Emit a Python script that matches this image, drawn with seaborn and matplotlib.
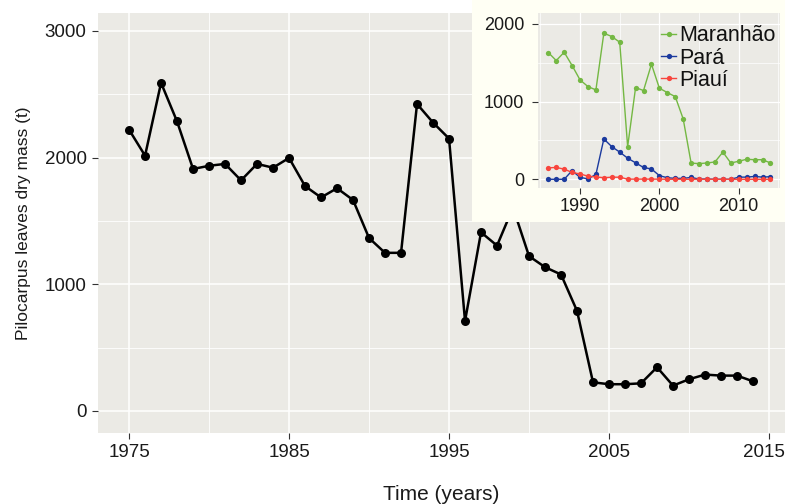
import matplotlib
matplotlib.use("Agg")
import matplotlib.pyplot as plt
from matplotlib.ticker import MultipleLocator
from matplotlib.transforms import ScaledTranslation
import seaborn as sns
import pandas as pd

# ---- data ----
years_total = list(range(1975, 2015))
total_mass = [2220, 2015, 2590, 2285, 1910, 1935, 1950, 1820, 1950, 1920,
              1997, 1775, 1685, 1758, 1665, 1365, 1248, 1248, 2423, 2276,
              2150, 710, 1410, 1305, 1605, 1222, 1135, 1077, 790, 226,
              211, 211, 218, 345, 200, 250, 287, 279, 279, 234]

years_state = list(range(1986, 2015))
maranhao = [1631, 1528, 1635, 1464, 1279, 1193, 1150, 1880, 1837, 1764,
            420, 1180, 1142, 1481, 1172, 1116, 1064, 777, 208, 202,
            210, 223, 350, 210, 232, 258, 252, 252, 210]
para = [0, 0, 0, 112, 24, 6, 62, 519, 420, 350,
        272, 212, 152, 133, 47, 20, 12, 12, 24, 3,
        3, 0, 0, 0, 28, 28, 37, 28, 34]
piaui = [148, 152, 131, 88, 69, 40, 30, 21, 27, 27,
         2, 2, 2, 2, 2, 0, 0, 0, 0, 0,
         0, 0, 0, 0, 0, 0, 0, 0, 0]
states = ["Maranhão", "Pará", "Piauí"]
state_colors = ["#74B843", "#1B3A9E", "#F8453D"]

df_total = pd.DataFrame({"year": years_total, "mass": total_mass})
df_states = pd.DataFrame({
    "year": years_state * 3,
    "mass": maranhao + para + piaui,
    "state": [states[0]] * len(years_state) + [states[1]] * len(years_state)
             + [states[2]] * len(years_state),
})

# ---- style ----
plt.rcParams["font.family"] = ["Liberation Sans", "DejaVu Sans"]
panel = "#EBEAE5"
tick_col = "#333333"

W, H = 785, 504
fig = plt.figure(figsize=(W / 100, H / 100), dpi=100, facecolor="white")


def fx(px):
    return px / W


def fy(py):
    return 1 - py / H


def style_axes(ax, major_w, minor_w, fs, ticklen, pad):
    ax.set_facecolor(panel)
    for s in ax.spines.values():
        s.set_visible(False)
    ax.grid(which="major", color="white", linewidth=major_w)
    ax.grid(which="minor", color="white", linewidth=minor_w)
    ax.set_axisbelow(True)
    ax.tick_params(which="major", length=ticklen, width=0.8, color=tick_col,
                   labelsize=fs, labelcolor="#1a1a1a", direction="out",
                   pad=pad)
    ax.tick_params(which="minor", length=0)


# main axes
L, T, R, B = 97.7, 13, 785, 433
ax = fig.add_axes([fx(L), fy(B), fx(R - L), (B - T) / H])
sns.lineplot(data=df_total, x="year", y="mass", ax=ax, color="black",
             linewidth=1.8, marker="o", markersize=6.5, markeredgewidth=0)
ax.set_xlim(1973.04, 2016.0)
ax.set_ylim(-174, 3141)
ax.set_xticks([1975, 1985, 1995, 2005, 2015])
ax.xaxis.set_minor_locator(MultipleLocator(5))
ax.set_yticks([0, 1000, 2000, 3000])
ax.yaxis.set_minor_locator(MultipleLocator(500))
style_axes(ax, 1.1, 0.6, 13.5, 4, 4)
ax.set_xlabel("Time (years)", fontsize=15, labelpad=17, color="#1a1a1a")
ax.set_ylabel("Pilocarpus leaves dry mass (t)", fontsize=12.5, labelpad=10,
              color="#1a1a1a")
# keep the last year label inside the picture, as in the reference
last_lab = ax.get_xticklabels()[-1]
last_lab.set_transform(last_lab.get_transform()
                       + ScaledTranslation(-0.05, 0, fig.dpi_scale_trans))

# inset background box
bg = fig.add_axes([fx(471.7), fy(221.7), fx(W - 471.7), 221.7 / H])
bg.set_facecolor("#FFFFF4")
bg.set_xticks([])
bg.set_yticks([])
for s in bg.spines.values():
    s.set_visible(False)

# inset axes
iL, iT, iR, iB = 538.3, 13.3, 780, 188
ax2 = fig.add_axes([fx(iL), fy(iB), fx(iR - iL), (iB - iT) / H])
sns.lineplot(data=df_states, x="year", y="mass", hue="state",
             hue_order=states, palette=state_colors, ax=ax2,
             linewidth=1.0, marker="o", markersize=3.8, markeredgewidth=0)
ax2.set_xlim(1984.74, 2015.2)
ax2.set_ylim(-112, 2136)
ax2.set_xticks([1990, 2000, 2010])
ax2.xaxis.set_minor_locator(MultipleLocator(5))
ax2.set_yticks([0, 1000, 2000])
ax2.yaxis.set_minor_locator(MultipleLocator(500))
style_axes(ax2, 0.9, 0.5, 13, 4, 3)
ax2.tick_params(axis="y", pad=6)
ax2.set_xlabel("")
ax2.set_ylabel("")
leg = ax2.legend(loc="upper right", bbox_to_anchor=(1.0, 0.955),
                 frameon=False, fontsize=15.5,
                 handlelength=0.7, handletextpad=0.15, labelspacing=0.05,
                 borderaxespad=0.1, borderpad=0.1, markerscale=1.0)
for t in leg.get_texts():
    t.set_color("#111111")

fig.savefig("out.png", dpi=100, facecolor="white")
